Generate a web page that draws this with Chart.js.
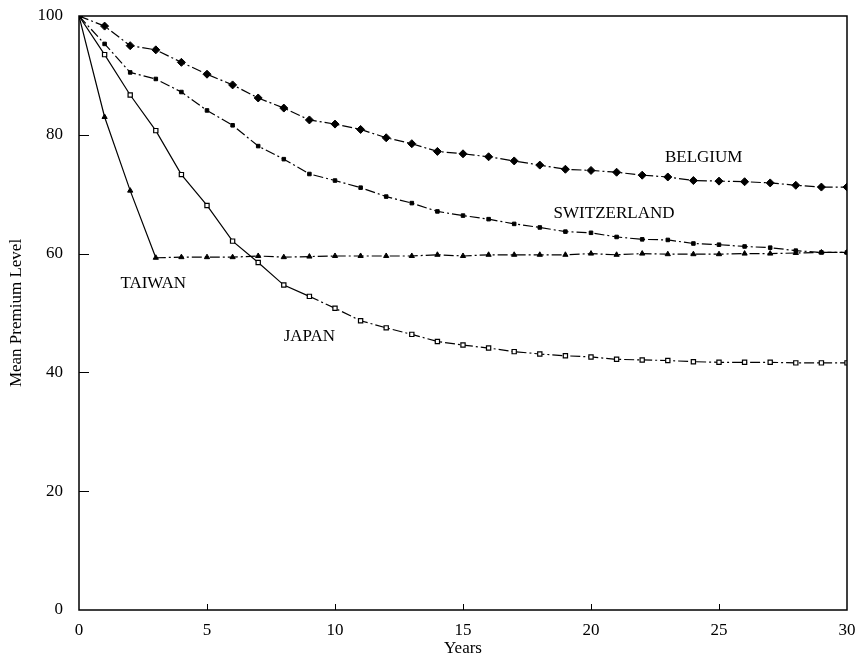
<!DOCTYPE html>
<html>
<head>
<meta charset="utf-8">
<title>Mean Premium Level</title>
<script src="https://cdn.jsdelivr.net/npm/chart.js@4.4.1/dist/chart.umd.min.js"></script>
<style>
  html, body { margin: 0; padding: 0; background: #fff; }
  canvas { display: block; }
</style>
</head>
<body>
<canvas id="premium-chart" width="863" height="663"></canvas>
<script>
// years since entry (x axis)
const years = [0, 1, 2, 3, 4, 5, 6, 7, 8, 9, 10, 11, 12, 13, 14, 15, 16, 17, 18, 19, 20,
  21, 22, 23, 24, 25, 26, 27, 28, 29, 30];

// mean premium level per country
const belgium = [100, 98.3, 95.0, 94.3, 92.2, 90.2, 88.4, 86.2, 84.5, 82.5, 81.8, 80.9, 79.5,
  78.5, 77.2, 76.8, 76.3, 75.6, 74.9, 74.2, 74.0, 73.7, 73.2, 72.9, 72.3, 72.2, 72.1, 71.9,
  71.5, 71.2, 71.2];
const switzerland = [100, 95.3, 90.5, 89.4, 87.2, 84.1, 81.6, 78.1, 75.9, 73.4, 72.3, 71.1,
  69.6, 68.5, 67.1, 66.4, 65.8, 65.0, 64.4, 63.7, 63.5, 62.8, 62.4, 62.3, 61.7, 61.5, 61.2,
  61.0, 60.5, 60.2, 60.2];
const taiwan = [100, 83.0, 70.6, 59.3, 59.4, 59.4, 59.4, 59.6, 59.4, 59.5, 59.6, 59.6, 59.6,
  59.6, 59.8, 59.6, 59.8, 59.8, 59.8, 59.8, 60.0, 59.8, 60.0, 59.9, 59.9, 59.9, 60.0, 60.0,
  60.1, 60.2, 60.2];
const japan = [100, 93.5, 86.7, 80.7, 73.3, 68.1, 62.1, 58.5, 54.7, 52.8, 50.8, 48.7, 47.5,
  46.4, 45.2, 44.6, 44.1, 43.5, 43.1, 42.8, 42.6, 42.2, 42.1, 42.0, 41.8, 41.7, 41.7, 41.7,
  41.6, 41.6, 41.6];

// tick values
const xTicks = [0, 5, 10, 15, 20, 25, 30];
const yTicks = [0, 20, 40, 60, 80, 100];

// curve labels written inside the plot (data coordinates)
const labelText = ["BELGIUM", "SWITZERLAND", "TAIWAN", "JAPAN"];
const labelX = [24.4, 20.9, 2.9, 9.0];
const labelY = [76.1, 66.8, 55.0, 46.1];

const FONT = "'Liberation Serif', 'DejaVu Serif', serif";
const dashDot = [10, 3, 2, 3];

function pts(values) {
  return values.map((v, i) => ({ x: years[i], y: v }));
}

// solid for the first n segments, dash-dot after
function dashAfter(n) {
  return (ctx) => (ctx.p0DataIndex < n ? [] : dashDot);
}

// frame round the plot, inward tick marks and the country labels
const framePlugin = {
  id: "frame",
  afterDatasetsDraw(chart) {
    const { ctx, chartArea: a, scales } = chart;
    ctx.save();
    ctx.strokeStyle = "#000";
    ctx.lineWidth = 1.5;
    ctx.strokeRect(a.left, a.top, a.right - a.left, a.bottom - a.top);

    ctx.lineWidth = 1;
    ctx.beginPath();
    yTicks.slice(1, -1).forEach((v) => {
      const py = Math.round(scales.y.getPixelForValue(v)) + 0.5;
      ctx.moveTo(a.left, py);
      ctx.lineTo(a.left + 10, py);
    });
    xTicks.slice(1, -1).forEach((v) => {
      const px = Math.round(scales.x.getPixelForValue(v)) + 0.5;
      ctx.moveTo(px, a.bottom);
      ctx.lineTo(px, a.bottom - 6);
    });
    ctx.stroke();

    ctx.fillStyle = "#000";
    ctx.font = "17px " + FONT;
    ctx.textAlign = "center";
    ctx.textBaseline = "middle";
    labelText.forEach((t, i) => {
      ctx.fillText(t, scales.x.getPixelForValue(labelX[i]), scales.y.getPixelForValue(labelY[i]));
    });
    ctx.restore();
  },
};

Chart.defaults.font.family = FONT;
Chart.defaults.color = "#000";

const ctx = document.getElementById("premium-chart").getContext("2d");
new Chart(ctx, {
  type: "line",
  data: {
    datasets: [
      {
        label: "Belgium",
        data: pts(belgium),
        borderColor: "#000",
        borderWidth: 1.2,
        borderDash: dashDot,
        pointStyle: "rectRot",
        pointRadius: 4,
        pointBackgroundColor: "#000",
        pointBorderColor: "#000",
        pointBorderWidth: 1,
      },
      {
        label: "Switzerland",
        data: pts(switzerland),
        borderColor: "#000",
        borderWidth: 1.2,
        borderDash: dashDot,
        pointStyle: "rect",
        pointRadius: 2.5,
        pointBackgroundColor: "#000",
        pointBorderColor: "#000",
        pointBorderWidth: 1,
      },
      {
        label: "Taiwan",
        data: pts(taiwan),
        borderColor: "#000",
        borderWidth: 1.2,
        segment: { borderDash: dashAfter(3) },
        pointStyle: "triangle",
        pointRadius: 3,
        pointBackgroundColor: "#000",
        pointBorderColor: "#000",
        pointBorderWidth: 1,
      },
      {
        label: "Japan",
        data: pts(japan),
        borderColor: "#000",
        borderWidth: 1.2,
        segment: { borderDash: dashAfter(9) },
        pointStyle: "rect",
        pointRadius: 3,
        pointBackgroundColor: "#fff",
        pointBorderColor: "#000",
        pointBorderWidth: 1.2,
      },
    ],
  },
  options: {
    responsive: false,
    animation: false,
    layout: { padding: { left: 0, right: 16, top: 16, bottom: 0 } },
    plugins: {
      legend: { display: false },
      tooltip: { enabled: false },
    },
    elements: { line: { tension: 0 } },
    scales: {
      x: {
        type: "linear",
        min: 0,
        max: 30,
        afterBuildTicks: (s) => { s.ticks = xTicks.map((v) => ({ value: v })); },
        afterFit: (s) => { s.height = 53; s.paddingLeft = 0; s.paddingRight = 0; },
        grid: { display: false, drawTicks: false },
        border: { display: false },
        ticks: { padding: 10, font: { size: 17 }, maxRotation: 0 },
        title: { display: true, text: "Years", font: { size: 17 }, padding: { top: 0, bottom: 4 } },
      },
      y: {
        min: 0,
        max: 100,
        afterBuildTicks: (s) => { s.ticks = yTicks.map((v) => ({ value: v })); },
        afterFit: (s) => { s.width = 79; s.paddingTop = 0; s.paddingBottom = 0; },
        grid: { display: false, drawTicks: false },
        border: { display: false },
        ticks: { padding: 16, font: { size: 17 } },
        title: { display: true, text: "Mean Premium Level", font: { size: 17 }, padding: { top: 6, bottom: 0 } },
      },
    },
  },
  plugins: [framePlugin],
});
</script>
</body>
</html>
